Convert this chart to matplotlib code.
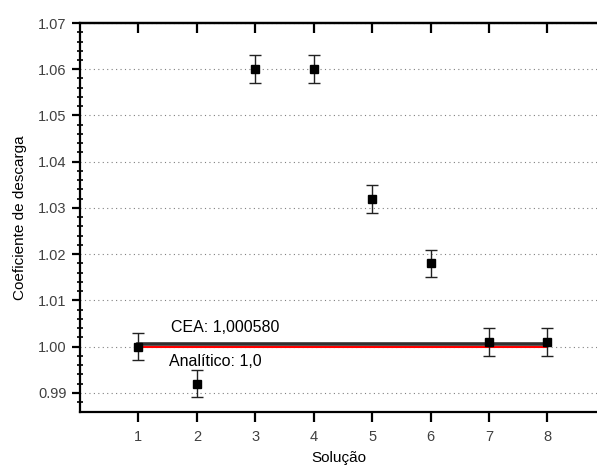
import matplotlib.pyplot as plt
import numpy as np

plt.rcParams['font.family'] = ['Liberation Sans', 'DejaVu Sans']

solucao = [1, 2, 3, 4, 5, 6, 7, 8]
coef = [1.000, 0.992, 1.060, 1.060, 1.032, 1.018, 1.001, 1.001]
erro = [0.003, 0.003, 0.003, 0.003, 0.003, 0.003, 0.003, 0.003]
cea = 1.000580
analitico = 1.0

fig = plt.figure(figsize=(5.97, 4.70), dpi=100)
ax = fig.add_axes([0.134, 0.123, 0.866, 0.828])

# linhas de referencia
ax.plot([1, 8], [cea, cea], color='#303030', lw=2.6, zorder=2)
ax.plot([1, 8], [analitico, analitico], color='red', lw=1.5, zorder=3)

ax.errorbar(solucao, coef, yerr=erro, fmt='s', color='black', ms=6,
            ecolor='#222222', elinewidth=1, capsize=4, capthick=1, zorder=4)

ax.text(1.55, 1.0032, 'CEA: 1,000580', fontsize=11.5)
ax.text(1.52, 0.9958, 'Analítico: 1,0', fontsize=11.5)

ax.set_xlim(0, 8.85)
ax.set_ylim(0.9858, 1.07)
ax.set_xticks(solucao)
ax.set_yticks(np.arange(0.99, 1.0701, 0.01))
ax.set_yticks(np.arange(0.988, 1.0701, 0.002), minor=True)
ax.yaxis.set_major_formatter(plt.FuncFormatter(lambda v, p: f'{v:.2f}'))

ax.grid(axis='y', which='major', linestyle=(0, (1, 3)), color='#808080', lw=0.8)
ax.set_axisbelow(True)

ax.spines['right'].set_visible(False)
for s in ['left', 'bottom', 'top']:
    ax.spines[s].set_linewidth(1.6)

ax.tick_params(axis='x', direction='out', length=7, width=1.6,
               labelsize=10.5, labelcolor='#404040', pad=6)
ax.tick_params(axis='y', which='major', direction='out', length=6, width=1.6,
               labelsize=10.5, labelcolor='#404040')
ax.tick_params(axis='y', which='minor', direction='inout', length=5, width=1.2)

# ticks de cima apontam para dentro
topo = ax.secondary_xaxis('top')
topo.set_xticks(solucao)
topo.tick_params(direction='in', length=7, width=1.6, labeltop=False)
topo.spines['top'].set_linewidth(1.6)

ax.set_xlabel('Solução', fontsize=11, labelpad=5)
ax.set_ylabel('Coeficiente de descarga', fontsize=11, labelpad=8)

fig.savefig('out.png', dpi=100)
